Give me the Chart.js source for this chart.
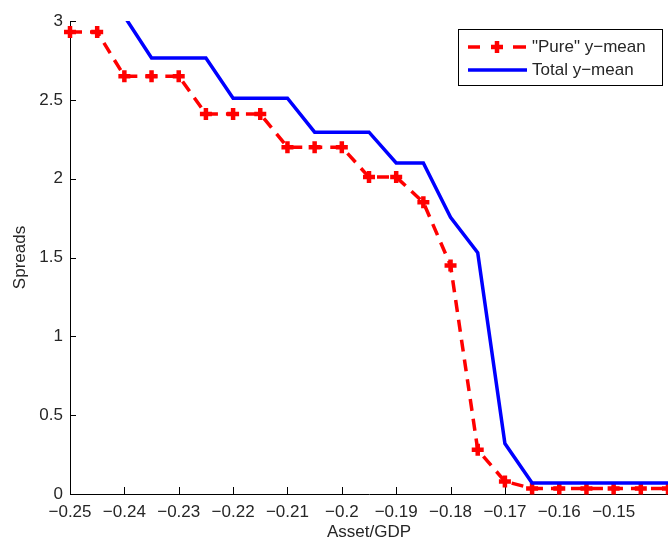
<!DOCTYPE html>
<html>
<head>
<meta charset="utf-8">
<script src="https://cdn.jsdelivr.net/npm/chart.js@4"></script>
<style>
  body { margin: 0; background: #fff; }
  #wrap { width: 668px; height: 538px; position: relative; }
</style>
</head>
<body>
<div id="wrap"><canvas id="myChart"></canvas></div>
<script>
// Asset/GDP grid (x) and the two spread curves
const assetGdp = [-0.25, -0.245, -0.24, -0.235, -0.23, -0.225, -0.22, -0.215, -0.21, -0.205, -0.2, -0.195,
                  -0.19, -0.185, -0.18, -0.175, -0.17, -0.165, -0.16, -0.155, -0.15, -0.145, -0.14]
const pureMean = [2.93, 2.93, 2.65, 2.65, 2.65, 2.41, 2.41, 2.41, 2.20, 2.20, 2.20, 2.01,
                  2.01, 1.85, 1.45, 0.28, 0.08, 0.035, 0.035, 0.035, 0.035, 0.035, 0.035]
const totalMean = [3.03, 3.03, 3.03, 2.765, 2.765, 2.765, 2.51, 2.51, 2.51, 2.295, 2.295, 2.295,
                   2.10, 2.10, 1.755, 1.53, 0.32, 0.07, 0.07, 0.07, 0.07, 0.07, 0.07]
const seriesLabels = ['"Pure" y\u2212mean', 'Total y\u2212mean']
const xTitle = 'Asset/GDP'
const yTitle = 'Spreads'

const FONT = 'Liberation Sans, Arial, Helvetica, sans-serif'
const TXT = '#262626'

const toPoints = (ys) => ys.map((y, i) => ({x: assetGdp[i], y: y}))
const fmt = (v) => String(parseFloat(v.toFixed(3))).replace('-', '\u2212')

// matlab style ticks pointing into the plot
const innerTicks = {
  id: 'innerTicks',
  beforeDatasetsDraw(chart) {
    const {ctx, chartArea: a, scales: {x, y}} = chart
    ctx.save()
    ctx.strokeStyle = '#000'
    ctx.lineWidth = 1
    ctx.beginPath()
    x.ticks.forEach(t => {
      const px = Math.round(x.getPixelForValue(t.value)) + 0.5
      if (px > a.left + 2 && px < a.right - 2) {
        ctx.moveTo(px, a.bottom)
        ctx.lineTo(px, a.bottom - 7)
      }
    })
    y.ticks.forEach(t => {
      const py = Math.round(y.getPixelForValue(t.value)) + 0.5
      if (py < a.bottom - 2) {
        ctx.moveTo(a.left, py)
        ctx.lineTo(a.left + 6, py)
      }
    })
    ctx.stroke()
    ctx.restore()
  }
}

const boxLegend = {
  id: 'boxLegend',
  afterDraw(chart) {
    const ctx = chart.ctx
    ctx.save()
    ctx.fillStyle = '#fff'
    ctx.fillRect(458, 29, 204, 56)
    ctx.strokeStyle = '#000'
    ctx.lineWidth = 1
    ctx.strokeRect(458.5, 29.5, 204, 56)

    // red dashed sample with plus marker
    ctx.strokeStyle = 'red'
    ctx.lineWidth = 3.5
    ctx.beginPath()
    ctx.moveTo(468, 47); ctx.lineTo(480, 47)
    ctx.moveTo(513, 47); ctx.lineTo(526, 47)
    ctx.stroke()
    ctx.lineWidth = 4.5
    ctx.beginPath()
    ctx.moveTo(491, 47); ctx.lineTo(503, 47)
    ctx.moveTo(497, 41); ctx.lineTo(497, 53)
    ctx.stroke()

    // blue solid sample
    ctx.strokeStyle = 'blue'
    ctx.lineWidth = 3.5
    ctx.beginPath()
    ctx.moveTo(468, 70); ctx.lineTo(527, 70)
    ctx.stroke()

    ctx.fillStyle = TXT
    ctx.font = '17px ' + FONT
    ctx.textBaseline = 'middle'
    ctx.fillText(seriesLabels[0], 532, 47)
    ctx.fillText(seriesLabels[1], 532, 70)
    ctx.restore()
  }
}

const ctx = document.getElementById('myChart').getContext('2d')

const myChart = new Chart(ctx, {
  type: 'line',
  data: {
    datasets: [{
      label: seriesLabels[0],
      data: toPoints(pureMean),
      borderColor: 'red',
      backgroundColor: 'red',
      borderWidth: 3.5,
      borderDash: [12, 8],
      pointStyle: 'cross',
      pointRadius: 6,
      pointBorderWidth: 4.5,
      pointBorderColor: 'red',
      fill: false,
      tension: 0,
      order: 1,
      clip: 12
    }, {
      label: seriesLabels[1],
      data: toPoints(totalMean),
      borderColor: 'blue',
      borderWidth: 3.5,
      pointRadius: 0,
      fill: false,
      tension: 0,
      order: 0,
      clip: 0
    }]
  },
  options: {
    responsive: true,
    maintainAspectRatio: false,
    animation: false,
    layout: { autoPadding: false, padding: { top: 21, right: 0, left: 0, bottom: 0 } },
    plugins: {
      legend: { display: false },
      tooltip: { enabled: false }
    },
    scales: {
      x: {
        type: 'linear',
        min: -0.25,
        max: -0.14,
        afterFit: (s) => { s.height = 44; s.paddingRight = 0; s.paddingLeft = 0 },
        border: { display: true, color: '#000', width: 1 },
        grid: { drawOnChartArea: false, drawTicks: false },
        ticks: {
          stepSize: 0.01,
          padding: 8,
          maxRotation: 0,
          autoSkip: false,
          color: TXT,
          font: { family: FONT, size: 17 },
          callback: (v) => v > -0.145 ? '' : fmt(v)
        },
        title: {
          display: true,
          text: xTitle,
          color: TXT,
          font: { family: FONT, size: 17 },
          padding: { top: 0, bottom: -5 }
        }
      },
      y: {
        min: 0,
        max: 3,
        afterFit: (s) => { s.width = 70 },
        border: { display: true, color: '#000', width: 1 },
        grid: { drawOnChartArea: false, drawTicks: false },
        ticks: {
          stepSize: 0.5,
          padding: 7,
          color: TXT,
          font: { family: FONT, size: 17 },
          callback: (v) => fmt(v)
        },
        title: {
          display: true,
          text: yTitle,
          color: TXT,
          font: { family: FONT, size: 17 },
          padding: { top: 10, bottom: 0 }
        }
      }
    }
  },
  plugins: [innerTicks, boxLegend]
})
</script>
</body>
</html>
